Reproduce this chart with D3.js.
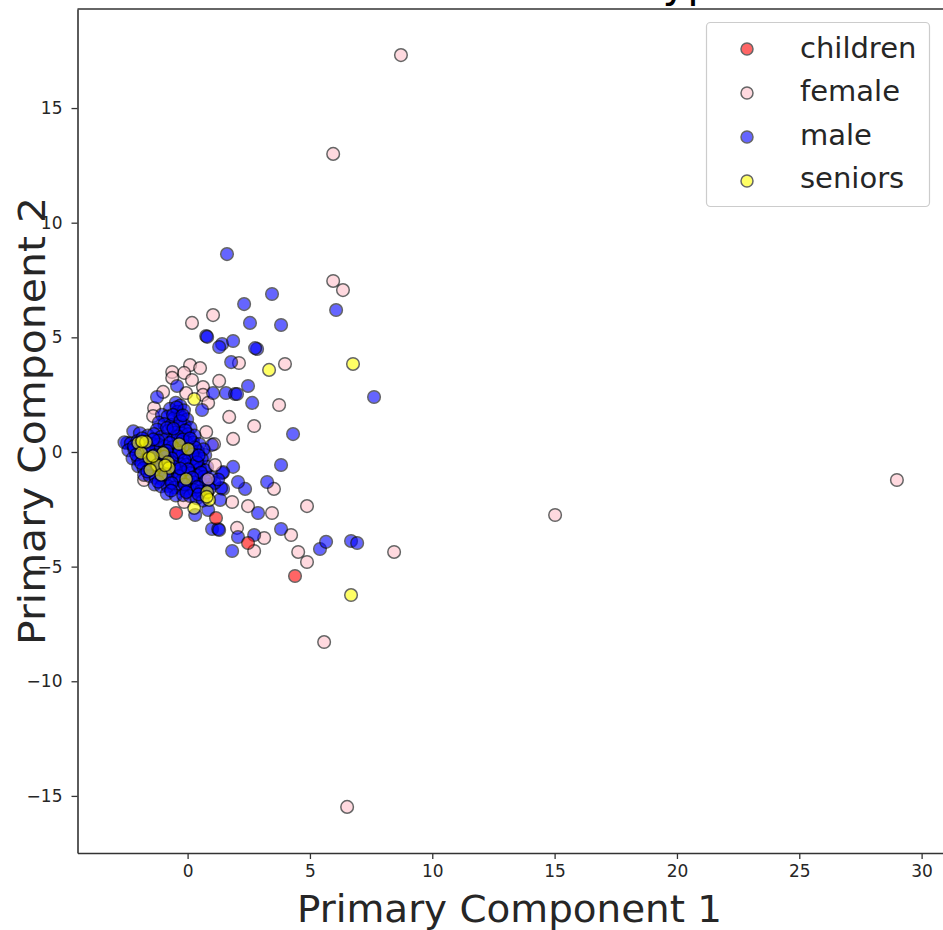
<!DOCTYPE html>
<html>
<head>
<meta charset="utf-8">
<script src="https://cdn.jsdelivr.net/npm/d3@7"></script>
<style>
  html, body { margin: 0; padding: 0; background: #fff; overflow: hidden; }
  text { font-family: "DejaVu Sans", sans-serif; fill: #262626; }
  .tick text { font-size: 17px; }
  .tick line, .domain { stroke: #333; }
</style>
</head>
<body>
<svg id="chart" width="943" height="930"></svg>
<script>
// PCA scatter, values as [pc1, pc2]
const children = [[-0.47,-2.66],[1.16,-2.88],[2.47,-3.97],[4.39,-5.41]];

const female = [
  [8.72,17.31],[5.95,13.00],[5.95,7.46],[6.35,7.06],[0.18,5.63],[1.04,5.97],[2.10,3.88],[3.98,3.84],
  [3.74,2.05],[1.70,1.53],[2.72,1.13],[1.86,0.57],[1.29,3.10],[0.10,3.79],[0.51,3.66],[-0.63,3.49],
  [-0.14,3.45],[0.18,3.14],[-0.63,3.23],[-1.00,2.62],[-1.37,1.92],[-1.41,1.57],[0.63,2.83],[0.63,2.49],
  [0.84,2.14],[-0.06,2.57],[0.76,0.87],[1.08,0.35],[-1.78,-1.22],[1.82,-2.18],[-0.14,-2.18],[3.53,-1.61],
  [2.47,-2.36],[3.45,-2.66],[4.88,-2.36],[2.02,-3.31],[3.13,-3.75],[4.23,-3.62],[2.72,-4.32],[4.52,-4.36],
  [4.88,-4.80],[8.44,-4.36],[15.02,-2.75],[28.99,-1.22],[5.58,-8.29],[6.52,-15.48]
];
// the few female points that sit on top of the male cloud
const femaleOver = [[0.84,-1.18],[1.12,-0.57]];

const maleOuter = [
  [1.61,8.63],[3.45,6.89],[2.31,6.45],[6.07,6.19],[2.55,5.63],[3.82,5.54],[0.76,5.06],[0.80,5.02],
  [1.41,4.71],[1.29,4.58],[1.86,4.84],[2.84,4.49],[2.76,4.53],[1.78,3.92],[2.47,2.88],[7.62,2.40],
  [2.64,2.14],[1.04,2.57],[1.57,2.57],[1.94,2.53],[2.02,2.53],[-0.43,2.88],[0.59,1.83],[4.31,0.78],
  [-1.25,2.40],[3.82,-0.57],[1.86,-0.65],[3.25,-1.31],[2.35,-1.61],[2.06,-1.31],[1.41,-0.92],[1.45,-0.88],
  [1.45,-1.61],[1.37,-1.57],[1.33,-2.09],[2.88,-2.66],[3.82,-3.36],[2.72,-3.62],[2.06,-3.71],[1.82,-4.32],
  [1.00,-3.36],[1.25,-3.36],[1.29,-3.40],[5.41,-4.23],[5.66,-3.92],[6.68,-3.88],[6.93,-3.97],[0.84,-2.53],
  [0.31,-2.75],[-2.47,0.39],[1.00,0.31],[0.72,-0.13],[0.43,-0.48],[0.80,-0.65]
];
const maleCore = [
  [-0.48,2.15],[-0.30,2.02],[-0.72,1.88],[-0.42,1.75],[-0.15,1.82],[-1.05,1.62],[-0.82,1.55],[-0.55,1.48],
  [-0.28,1.55],[-0.02,1.42],[-1.18,1.28],[-0.95,1.22],[-0.66,1.18],[-0.38,1.12],[-0.12,1.16],[0.12,1.05],
  [-1.25,0.98],[-0.80,0.92],[-0.52,0.85],[-0.25,0.82],[0.02,0.78],[0.28,0.72],[-2.22,0.90],[-1.95,0.82],
  [-1.62,0.72],[-1.38,0.78],[-1.08,0.66],[-0.86,0.58],[-0.58,0.55],[-0.30,0.52],[-0.05,0.44],[0.22,0.42],
  [0.48,0.35],[-2.58,0.42],[-2.32,0.38],[-2.05,0.48],[-1.72,0.42],[-1.45,0.36],[-1.18,0.32],[-0.92,0.25],
  [-0.62,0.22],[-0.35,0.18],[-0.10,0.12],[0.15,0.08],[0.42,0.02],[0.65,0.12],[-2.42,0.08],[-2.18,0.12],
  [-1.90,0.05],[-1.55,-0.02],[-1.30,0.02],[-1.02,-0.05],[-0.78,-0.08],[-0.50,-0.12],[-0.22,-0.15],[0.05,-0.22],
  [0.30,-0.28],[0.58,-0.30],[-2.25,-0.28],[-2.02,-0.32],[-1.72,-0.35],[-1.42,-0.30],[-1.15,-0.38],[-0.88,-0.42],
  [-0.62,-0.45],[-0.32,-0.50],[-0.05,-0.55],[0.22,-0.60],[0.50,-0.72],[0.72,-0.80],[-2.02,-0.62],[-1.80,-0.70],
  [-1.52,-0.68],[-1.25,-0.75],[-0.98,-0.78],[-0.72,-0.82],[-0.45,-0.85],[-0.18,-0.90],[0.10,-0.92],[0.38,-1.02],
  [0.66,-1.08],[0.95,-1.10],[-1.78,-1.00],[-1.55,-1.05],[-1.30,-1.12],[-1.05,-1.18],[-0.78,-1.15],[-0.52,-1.20],
  [-0.25,-1.25],[0.02,-1.28],[0.28,-1.32],[0.55,-1.38],[0.85,-1.42],[1.10,-1.35],[-1.35,-1.42],[-1.08,-1.50],
  [-0.82,-1.48],[-0.55,-1.55],[-0.28,-1.58],[0.00,-1.60],[0.25,-1.65],[0.52,-1.72],[0.78,-1.78],[-0.85,-1.82],
  [-0.48,-1.90],[-0.18,-1.88],[0.10,-1.92],[0.38,-2.02],[0.62,-2.12],
  // second layer, the middle of the cloud is nearly solid blue
  [-0.45,1.95],[-0.60,1.62],[-0.30,1.35],[-0.85,1.05],[-0.10,0.95],[-0.40,0.68],[-1.85,0.60],[-1.20,0.50],
  [-0.72,0.40],[-0.15,0.28],[0.30,0.20],[-2.20,0.25],[-1.60,0.18],[-0.85,0.05],[-0.35,-0.02],[0.20,-0.10],
  [-2.10,-0.12],[-1.35,-0.15],[-0.65,-0.28],[-0.12,-0.35],[0.38,-0.45],[-1.90,-0.48],[-1.10,-0.58],[-0.55,-0.65],
  [0.02,-0.75],[0.55,-0.90],[-1.65,-0.85],[-0.90,-0.98],[-0.35,-1.05],[0.20,-1.12],[0.75,-1.25],[-1.20,-1.30],
  [-0.65,-1.35],[-0.12,-1.42],[0.40,-1.52],[-0.68,-1.68],[-0.05,-1.75],[0.45,-1.85],[-0.20,0.55],[0.10,0.60],
  [-0.58,1.02],[-1.40,0.55],[-0.95,-0.20],[0.45,-0.15],[-0.30,-0.72],[0.90,-1.60],[1.25,-1.20],[-0.20,1.60]
];

const seniors = [
  [3.33,3.58],[6.76,3.84],[6.68,-6.24],[0.27,2.31],[-2.02,0.39],[-1.70,0.44],[-1.90,-0.04],[-1.57,-0.26],
  [-1.00,-0.04],[-1.25,-0.57],[-0.80,-0.44],[-0.76,-0.70],[-1.53,-0.78],[-1.08,-1.00],[-0.35,0.35],[0.02,0.13],
  [-0.06,-1.18],[0.80,-1.74],[0.88,-2.09],[0.27,-2.44],
  // partly stacked in the reference, that is why some of them look brighter
  [-1.86,0.46],[-1.42,-0.18],[-0.92,-0.58],[0.78,-1.95]
];

const legendLabels = ["children", "female", "male", "seniors"];
const legendColors = ["#ff0000", "pink", "#0000ff", "#ffff00"];
const xTicks = [0, 5, 10, 15, 20, 25, 30];
const yTicks = [-15, -10, -5, 0, 5, 10, 15];

const svg = d3.select("#chart");
const margin = { left: 77.5, top: 9, bottom: 853 };

const x = d3.scaleLinear().domain([-4.5, 31.16]).range([margin.left, 950]);
const y = d3.scaleLinear().domain([-17.49, 19.32]).range([margin.bottom, margin.top]);

// title runs off the top of the photo, only the descenders show
svg.append("text")
  .attr("x", 646).attr("y", -3)
  .style("font-size", "42px")
  .style("fill", "#000")
  .text("types");

// ── points ──
function drawPoints(data, color) {
  svg.append("g").selectAll("circle")
    .data(data).join("circle")
    .attr("cx", d => x(d[0]))
    .attr("cy", d => y(d[1]))
    .attr("r", 6.3)
    .attr("fill", color)
    .attr("stroke", "#000")
    .attr("stroke-width", 1.5)
    .attr("opacity", 0.6);
}
drawPoints(female, legendColors[1]);
drawPoints(maleOuter, legendColors[2]);
drawPoints(maleCore, legendColors[2]);
drawPoints(children, legendColors[0]);
drawPoints(femaleOver, legendColors[1]);
drawPoints(seniors, legendColors[3]);

// ── axes ──
const fmt = d => d3.format("")(d).replace("-", "\u2212");
const xAxis = svg.append("g")
  .attr("transform", `translate(0,${margin.bottom})`)
  .call(d3.axisBottom(x).tickValues(xTicks).tickFormat(fmt).tickSize(6).tickSizeOuter(0).tickPadding(6));
const yAxis = svg.append("g")
  .attr("transform", `translate(${margin.left},0)`)
  .call(d3.axisLeft(y).tickValues(yTicks).tickFormat(fmt).tickSize(6).tickSizeOuter(0).tickPadding(9));
xAxis.select(".domain").attr("stroke-width", 1.6);
yAxis.select(".domain").attr("stroke-width", 1.6);
svg.selectAll(".tick line").attr("stroke-width", 1.3);

svg.append("line")
  .attr("x1", margin.left).attr("x2", 943)
  .attr("y1", margin.top).attr("y2", margin.top)
  .attr("stroke", "#333").attr("stroke-width", 1.6);

svg.append("text")
  .attr("x", 509.5).attr("y", 922)
  .attr("text-anchor", "middle")
  .attr("textLength", 425).attr("lengthAdjust", "spacingAndGlyphs")
  .style("font-size", "37px")
  .text("Primary Component 1");

svg.append("text")
  .attr("transform", "translate(45,421) rotate(-90)")
  .attr("text-anchor", "middle")
  .attr("textLength", 448).attr("lengthAdjust", "spacingAndGlyphs")
  .style("font-size", "38px")
  .text("Primary Component 2");

// ── legend ──
const legend = svg.append("g");
legend.append("rect")
  .attr("x", 706.5).attr("y", 22.5)
  .attr("width", 223).attr("height", 184)
  .attr("rx", 4)
  .attr("fill", "#fff").attr("fill-opacity", 0.8)
  .attr("stroke", "#ccc").attr("stroke-width", 1.2);

const legendY = d3.scalePoint().domain(legendLabels).range([49, 181]);
legend.selectAll("circle")
  .data(legendLabels).join("circle")
  .attr("cx", 747)
  .attr("cy", d => legendY(d))
  .attr("r", 6)
  .attr("fill", (d, i) => legendColors[i])
  .attr("stroke", "#000")
  .attr("stroke-width", 1.5)
  .attr("opacity", 0.6);
legend.selectAll("text")
  .data(legendLabels).join("text")
  .attr("x", 800)
  .attr("y", (d, i) => legendY(d) + 9 - i * 0.7)
  .style("font-size", "29px")
  .text(d => d);
</script>
</body>
</html>
